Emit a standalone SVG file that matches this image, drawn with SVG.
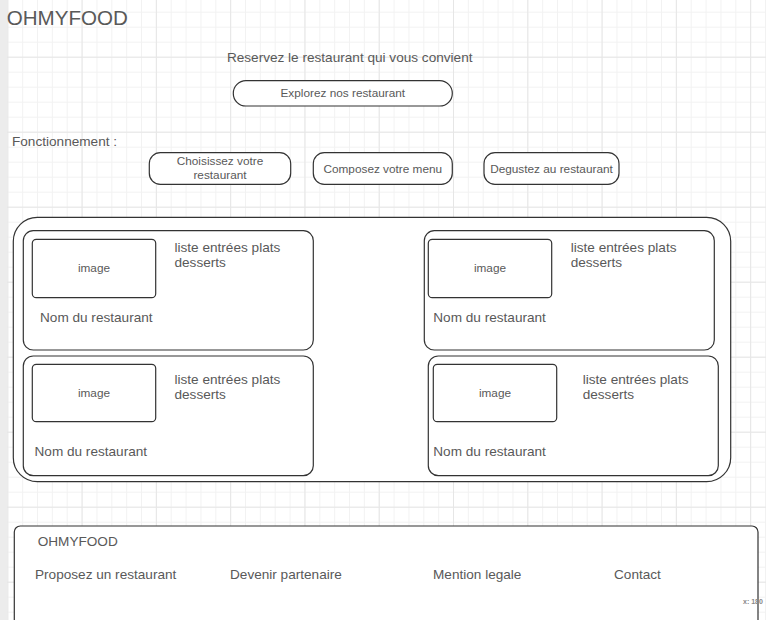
<svg xmlns="http://www.w3.org/2000/svg" width="766" height="620" viewBox="0 0 766 620">
<defs>
<pattern id="gmin" patternUnits="userSpaceOnUse" x="7.3" y="11.7" width="14.857" height="15">
<path d="M0 0.5H14.857M0.5 0V15" fill="none" stroke="#f2f2f2" stroke-width="1"/>
</pattern>
<pattern id="gmaj" patternUnits="userSpaceOnUse" x="7.3" y="56.7" width="74.286" height="75">
<path d="M0 0.5H74.286M0.5 0V75" fill="none" stroke="#e6e6e6" stroke-width="1"/>
</pattern>
<style>
.box{fill:#fff;stroke:#333;stroke-width:1.2}
.t{font-family:"Liberation Sans",Arial,sans-serif;fill:#595959}
.s11{font-size:11.8px}
.s13{font-size:13.6px}
.mid{text-anchor:middle}
</style>
</defs>
<rect width="766" height="620" fill="#fff"/>
<rect x="7" width="759" height="620" fill="url(#gmin)"/>
<rect x="7" width="759" height="620" fill="url(#gmaj)"/>
<rect x="0" y="0" width="7" height="620" fill="#ececec"/>

<g id="title"><text class="t" x="6.7" y="24.5" font-size="20.6">OHMYFOOD</text></g>
<g id="tagline"><text class="t s13" x="349.7" y="61.7" text-anchor="middle">Reservez le restaurant qui vous convient</text></g>
<g id="btn-explore">
<rect class="box" x="233.3" y="80.7" width="219" height="25.3" rx="12.6"/>
<text class="t s11 mid" x="342.8" y="97.3">Explorez nos restaurant</text>
</g>
<g id="fonctionnement"><text class="t s13" x="12" y="146">Fonctionnement :</text></g>
<g id="step1">
<rect class="box" x="149.3" y="152.7" width="141.4" height="31.6" rx="11"/>
<text class="t s11 mid" x="220" y="165.3">Choisissez votre</text>
<text class="t s11 mid" x="220" y="179.2">restaurant</text>
</g>
<g id="step2">
<rect class="box" x="313.3" y="152.7" width="139" height="31.6" rx="11"/>
<text class="t s11 mid" x="382.8" y="172.6">Composez votre menu</text>
</g>
<g id="step3">
<rect class="box" x="484" y="152.7" width="135" height="31.6" rx="11"/>
<text class="t s11 mid" x="551.5" y="172.6">Degustez au restaurant</text>
</g>

<g id="container"><rect class="box" x="13.3" y="217.3" width="717.4" height="264.4" rx="24"/></g>

<g id="card1">
<rect class="box" x="23.3" y="230.7" width="290" height="119.3" rx="10"/>
<rect class="box" x="32.3" y="239.3" width="123.4" height="58.4" rx="4"/>
<text class="t s11 mid" x="94" y="272">image</text>
<text class="t s13" x="174.5" y="251.7">liste entrées plats</text>
<text class="t s13" x="174.5" y="266.7">desserts</text>
<text class="t s13" x="40" y="321.7">Nom du restaurant</text>
</g>
<g id="card2">
<rect class="box" x="424.3" y="230.7" width="290" height="119.3" rx="10"/>
<rect class="box" x="428.3" y="239.3" width="123.4" height="58.4" rx="4"/>
<text class="t s11 mid" x="490" y="272">image</text>
<text class="t s13" x="570.7" y="251.7">liste entrées plats</text>
<text class="t s13" x="570.7" y="266.7">desserts</text>
<text class="t s13" x="433.3" y="321.7">Nom du restaurant</text>
</g>
<g id="card3">
<rect class="box" x="23.3" y="356" width="290" height="119.7" rx="10"/>
<rect class="box" x="32.3" y="364.3" width="123.4" height="57.4" rx="4"/>
<text class="t s11 mid" x="94" y="397">image</text>
<text class="t s13" x="174.5" y="383.5">liste entrées plats</text>
<text class="t s13" x="174.5" y="398.5">desserts</text>
<text class="t s13" x="34.5" y="456">Nom du restaurant</text>
</g>
<g id="card4">
<rect class="box" x="428.3" y="356" width="290" height="119.7" rx="10"/>
<rect class="box" x="433.3" y="364.3" width="123.4" height="57.4" rx="4"/>
<text class="t s11 mid" x="495" y="397">image</text>
<text class="t s13" x="582.7" y="383.5">liste entrées plats</text>
<text class="t s13" x="582.7" y="398.5">desserts</text>
<text class="t s13" x="433.3" y="456">Nom du restaurant</text>
</g>

<g id="footer">
<rect class="box" x="14.3" y="526" width="743.7" height="110" rx="6"/>
<text class="t s13" x="37.7" y="545.7">OHMYFOOD</text>
<text class="t s13" x="35" y="579">Proposez un restaurant</text>
<text class="t s13" x="230" y="579">Devenir partenaire</text>
<text class="t s13" x="433" y="579">Mention legale</text>
<text class="t s13" x="614" y="579">Contact</text>
</g>
<g id="coord"><text x="743" y="604" font-family="'Liberation Sans',Arial,sans-serif" font-size="7" font-weight="bold" fill="#888">x: 180</text></g>
</svg>
